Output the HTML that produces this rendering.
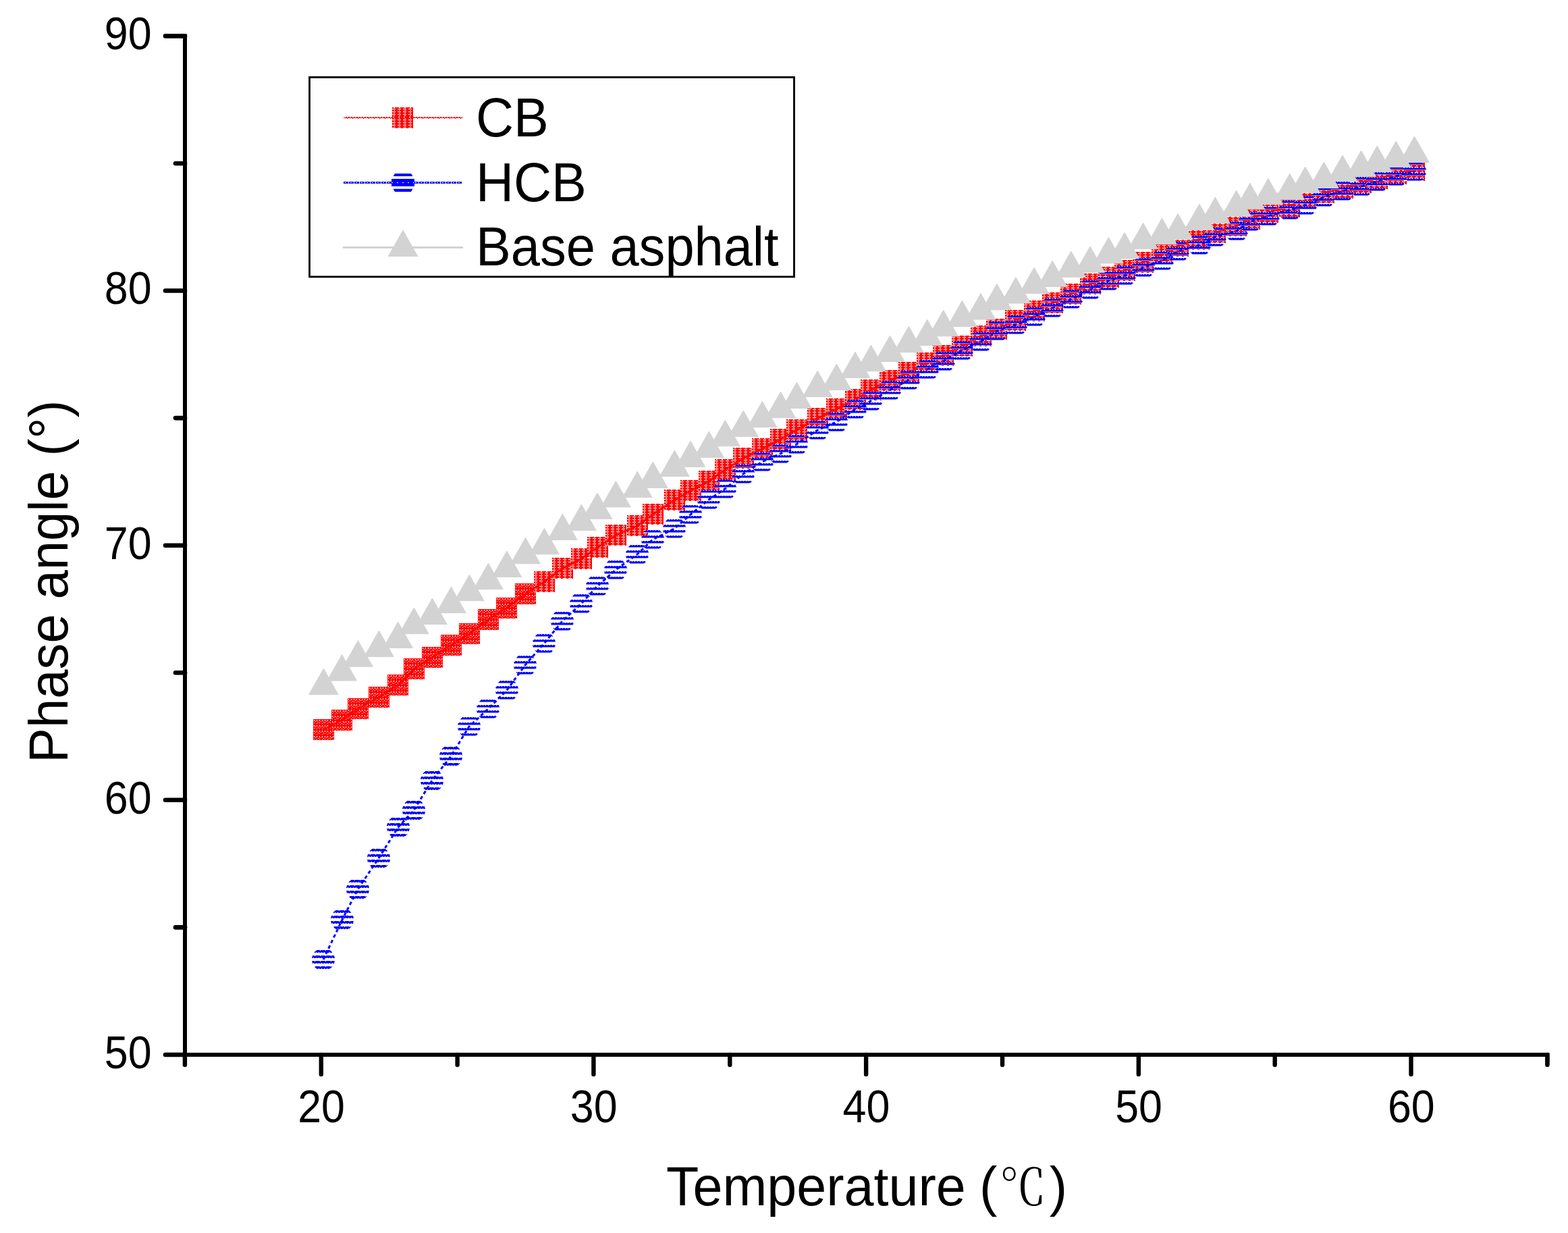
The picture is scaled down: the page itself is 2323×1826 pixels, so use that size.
<!DOCTYPE html>
<html><head><meta charset="utf-8"><title>Phase angle vs Temperature</title>
<style>
html,body{margin:0;padding:0;background:#fff;}
svg{display:block;}
text{font-family:"Liberation Sans",Arial,sans-serif;fill:#000;}
</style></head><body>
<svg width="2323" height="1826" viewBox="0 0 2323 1826">
<defs>
<pattern id="rp" width="8" height="8" patternUnits="userSpaceOnUse" x="0.5" y="0.5">
<rect width="8" height="8" fill="#ff0000"/>
<rect x="1" y="1" width="1" height="2" fill="#fff"/><rect x="5" y="1" width="1" height="2" fill="#fff"/>
<rect x="3" y="3" width="1" height="1" fill="#fff"/><rect x="7" y="4" width="1" height="1" fill="#fff"/>
<rect x="1" y="5" width="1" height="1" fill="#fff"/><rect x="5" y="6" width="1" height="1" fill="#fff"/>
</pattern>
<pattern id="rp2" width="8" height="4" patternUnits="userSpaceOnUse" x="0.5" y="0.5">
<rect width="8" height="4" fill="#ff0000"/>
<rect x="2" y="0" width="2" height="1" fill="#fff"/><rect x="0" y="2" width="5" height="1" fill="#fff"/>
</pattern>
<pattern id="bp2" width="8" height="4" patternUnits="userSpaceOnUse">
<rect width="8" height="4" fill="#0000ff"/>
<rect x="1" y="1" width="1" height="1" fill="#fff"/><rect x="3" y="1" width="1" height="1" fill="#fff"/><rect x="5" y="1" width="1" height="1" fill="#fff"/><rect x="7" y="1" width="1" height="1" fill="#fff"/>
<rect x="0" y="2" width="1" height="1" fill="#fff"/><rect x="4" y="2" width="1" height="1" fill="#fff"/>
</pattern>
<clipPath id="stripes"><rect x="-20" y="-14" width="40" height="4"/><rect x="-20" y="-6" width="40" height="4"/><rect x="-20" y="2" width="40" height="4"/><rect x="-20" y="10" width="40" height="4"/></clipPath>
<pattern id="bp" width="8" height="8" patternUnits="userSpaceOnUse">
<rect width="8" height="8" fill="#0000ff"/>
<rect x="1" y="1" width="1" height="1" fill="#fff"/><rect x="5" y="1" width="1" height="1" fill="#fff"/><rect x="3" y="2" width="1" height="1" fill="#fff"/>
<rect x="1" y="5" width="1" height="1" fill="#fff"/><rect x="5" y="5" width="1" height="1" fill="#fff"/><rect x="7" y="6" width="1" height="1" fill="#fff"/>
</pattern>
<g id="bc"><circle r="17" fill="url(#bp)" clip-path="url(#stripes)"/></g>
<g id="bc2"><circle r="17" fill="url(#bp2)" clip-path="url(#stripes)"/></g>
<g id="rs"><rect x="-15.5" y="-15.5" width="31" height="31" fill="url(#rp)"/></g>
<g id="rs2"><rect x="-15.5" y="-15.5" width="31" height="31" fill="url(#rp2)"/></g>
<g id="gt"><path d="M0 -25.6 L21.8 12.9 L-21.8 12.9 Z" fill="#d3d3d3" stroke="#d3d3d3" stroke-width="1" stroke-linejoin="round"/></g>
</defs>
<rect width="2323" height="1826" fill="#fff"/>
<use href="#rs" x="479.5" y="1080.5"/><use href="#rs" x="506.5" y="1066.5"/><use href="#rs" x="530.5" y="1049.5"/><use href="#rs" x="561.5" y="1032.5"/><use href="#rs" x="589.5" y="1014.5"/><use href="#rs" x="613.5" y="990.5"/><use href="#rs" x="640.5" y="973.5"/><use href="#rs" x="668.5" y="955.5"/><use href="#rs" x="695.5" y="938.5"/><use href="#rs" x="723.5" y="917.5"/><use href="#rs" x="750.5" y="900.5"/><use href="#rs" x="778.5" y="879.5"/><use href="#rs2" x="806.5" y="861.5"/><use href="#rs2" x="833.5" y="841.5"/><use href="#rs2" x="861.5" y="827.5"/><use href="#rs2" x="885.5" y="810.5"/><use href="#rs2" x="912.5" y="792.5"/><use href="#rs2" x="944.5" y="778.5"/><use href="#rs2" x="967.5" y="761.5"/><use href="#rs2" x="999.5" y="740.5"/><use href="#rs2" x="1023.5" y="726.5"/><use href="#rs2" x="1050.5" y="712.5"/><use href="#rs2" x="1074.5" y="695.5"/><use href="#rs2" x="1101.5" y="678.5"/><use href="#rs2" x="1129.5" y="664.5"/><use href="#rs2" x="1156.5" y="650.5"/><use href="#rs2" x="1180.5" y="636.5"/><use href="#rs2" x="1211.5" y="619.5"/><use href="#rs2" x="1239.5" y="605.5"/><use href="#rs2" x="1267.5" y="591.5"/><use href="#rs2" x="1290.5" y="577.5"/><use href="#rs2" x="1318.5" y="563.5"/><use href="#rs2" x="1346.5" y="551.5"/><use href="#rs2" x="1373.5" y="537.5"/><use href="#rs2" x="1397.5" y="526.5"/><use href="#rs2" x="1425.5" y="512.5"/><use href="#rs2" x="1453.5" y="497.5"/><use href="#rs2" x="1476.5" y="487.5"/><use href="#rs2" x="1504.5" y="474.5"/><use href="#rs2" x="1532.5" y="460.5"/><use href="#rs2" x="1559.5" y="448.5"/><use href="#rs2" x="1586.5" y="435.5"/><use href="#rs2" x="1615.5" y="420.5"/><use href="#rs2" x="1642.5" y="410.5"/><use href="#rs2" x="1666.5" y="400.5"/><use href="#rs2" x="1693.5" y="388.5"/><use href="#rs2" x="1721.5" y="376.5"/><use href="#rs2" x="1745.5" y="364.5"/><use href="#rs2" x="1776.5" y="354.5"/><use href="#rs2" x="1800.5" y="344.5"/><use href="#rs2" x="1831.5" y="334.5"/><use href="#rs2" x="1851.5" y="324.5"/><use href="#rs2" x="1878.5" y="314.5"/><use href="#rs2" x="1910.5" y="306.5"/><use href="#rs2" x="1933.5" y="291.5"/><use href="#rs2" x="1961.5" y="285.5"/><use href="#rs2" x="1989.5" y="278.5"/><use href="#rs2" x="2016.5" y="270.5"/><use href="#rs2" x="2040.5" y="264.5"/><use href="#rs2" x="2068.5" y="257.5"/><use href="#rs2" x="2095.5" y="252.5"/>
<polyline points="479.5,1080.5 506.5,1066.5 530.5,1049.5 561.5,1032.5 589.5,1014.5 613.5,990.5 640.5,973.5 668.5,955.5 695.5,938.5 723.5,917.5 750.5,900.5 778.5,879.5 806.5,861.5 833.5,841.5 861.5,827.5 885.5,810.5 912.5,792.5 944.5,778.5 967.5,761.5 999.5,740.5 1023.5,726.5 1050.5,712.5 1074.5,695.5 1101.5,678.5 1129.5,664.5 1156.5,650.5 1180.5,636.5 1211.5,619.5 1239.5,605.5 1267.5,591.5 1290.5,577.5 1318.5,563.5 1346.5,551.5 1373.5,537.5 1397.5,526.5 1425.5,512.5 1453.5,497.5 1476.5,487.5 1504.5,474.5 1532.5,460.5 1559.5,448.5 1586.5,435.5 1615.5,420.5 1642.5,410.5 1666.5,400.5 1693.5,388.5 1721.5,376.5 1745.5,364.5 1776.5,354.5 1800.5,344.5 1831.5,334.5 1851.5,324.5 1878.5,314.5 1910.5,306.5 1933.5,291.5 1961.5,285.5 1989.5,278.5 2016.5,270.5 2040.5,264.5 2068.5,257.5 2095.5,252.5" fill="none" stroke="#ff0000" stroke-width="3" stroke-linejoin="round"/>
<use href="#bc" x="479" y="1421"/><use href="#bc" x="507" y="1362"/><use href="#bc" x="530" y="1317"/><use href="#bc" x="561" y="1271"/><use href="#bc" x="590" y="1225"/><use href="#bc" x="613" y="1200"/><use href="#bc" x="640" y="1156"/><use href="#bc" x="668" y="1120"/><use href="#bc2" x="695" y="1076"/><use href="#bc2" x="723" y="1050"/><use href="#bc2" x="751" y="1022"/><use href="#bc2" x="778" y="985"/><use href="#bc2" x="806" y="953"/><use href="#bc2" x="833" y="920"/><use href="#bc2" x="861" y="894"/><use href="#bc2" x="885" y="868"/><use href="#bc2" x="912" y="844"/><use href="#bc2" x="944" y="821"/><use href="#bc2" x="967" y="799"/><use href="#bc2" x="999" y="783"/><use href="#bc2" x="1023" y="762"/><use href="#bc2" x="1050" y="740"/><use href="#bc2" x="1074" y="724"/><use href="#bc2" x="1101" y="702"/><use href="#bc2" x="1129" y="684"/><use href="#bc2" x="1156" y="672"/><use href="#bc2" x="1180" y="658"/><use href="#bc2" x="1211" y="637"/><use href="#bc2" x="1239" y="625"/><use href="#bc2" x="1267" y="606"/><use href="#bc2" x="1290" y="594"/><use href="#bc2" x="1318" y="578"/><use href="#bc2" x="1346" y="563"/><use href="#bc2" x="1374" y="547"/><use href="#bc2" x="1398" y="535"/><use href="#bc2" x="1425" y="519"/><use href="#bc2" x="1453" y="506"/><use href="#bc2" x="1477" y="490"/><use href="#bc2" x="1505" y="481"/><use href="#bc2" x="1532" y="469"/><use href="#bc2" x="1559" y="456"/><use href="#bc2" x="1587" y="443"/><use href="#bc2" x="1615" y="429"/><use href="#bc2" x="1642" y="416"/><use href="#bc2" x="1666" y="408"/><use href="#bc2" x="1694" y="396"/><use href="#bc2" x="1722" y="386"/><use href="#bc2" x="1745" y="372"/><use href="#bc2" x="1777" y="363"/><use href="#bc2" x="1800" y="351"/><use href="#bc2" x="1832" y="342"/><use href="#bc2" x="1852" y="328"/><use href="#bc2" x="1879" y="320"/><use href="#bc2" x="1911" y="311"/><use href="#bc2" x="1934" y="304"/><use href="#bc2" x="1961" y="292"/><use href="#bc2" x="1989" y="283"/><use href="#bc2" x="2017" y="276"/><use href="#bc2" x="2040" y="269"/><use href="#bc2" x="2068" y="261"/><use href="#bc2" x="2096" y="254"/>
<polyline points="479,1421 507,1362 530,1317 561,1271 590,1225 613,1200 640,1156 668,1120 695,1076 723,1050 751,1022 778,985 806,953 833,920 861,894 885,868 912,844 944,821 967,799 999,783 1023,762 1050,740 1074,724 1101,702 1129,684 1156,672 1180,658 1211,637 1239,625 1267,606 1290,594 1318,578 1346,563 1374,547 1398,535 1425,519 1453,506 1477,490 1505,481 1532,469 1559,456 1587,443 1615,429 1642,416 1666,408 1694,396 1722,386 1745,372 1777,363 1800,351 1832,342 1852,328 1879,320 1911,311 1934,304 1961,292 1989,283 2017,276 2040,269 2068,261 2096,254" fill="none" stroke="#0000ff" stroke-width="3" stroke-dasharray="5 4"/>
<use href="#gt" x="479.4" y="1015.8"/><use href="#gt" x="506.6" y="995.1"/><use href="#gt" x="530.4" y="974.3"/><use href="#gt" x="561.4" y="959.7"/><use href="#gt" x="589.6" y="946.7"/><use href="#gt" x="613.3" y="925.7"/><use href="#gt" x="640.4" y="911.7"/><use href="#gt" x="668.4" y="894.8"/><use href="#gt" x="695.4" y="876.8"/><use href="#gt" x="723.4" y="859.8"/><use href="#gt" x="750.9" y="841.6"/><use href="#gt" x="778.5" y="821.9"/><use href="#gt" x="806.5" y="807.9"/><use href="#gt" x="833.4" y="786.7"/><use href="#gt" x="861.4" y="772.6"/><use href="#gt" x="885" y="755.6"/><use href="#gt" x="912.4" y="738"/><use href="#gt" x="944.3" y="723.8"/><use href="#gt" x="967.3" y="709.6"/><use href="#gt" x="999.4" y="692.5"/><use href="#gt" x="1023" y="678.7"/><use href="#gt" x="1050.4" y="664.5"/><use href="#gt" x="1074.4" y="647.9"/><use href="#gt" x="1101.3" y="633.7"/><use href="#gt" x="1129.3" y="619.9"/><use href="#gt" x="1156.5" y="605.8"/><use href="#gt" x="1180.4" y="591.8"/><use href="#gt" x="1211.2" y="574.8"/><use href="#gt" x="1239.4" y="564.7"/><use href="#gt" x="1267" y="546.7"/><use href="#gt" x="1290.4" y="536.7"/><use href="#gt" x="1318.5" y="522.7"/><use href="#gt" x="1346.3" y="508.9"/><use href="#gt" x="1373.7" y="498.8"/><use href="#gt" x="1397.6" y="485"/><use href="#gt" x="1425.4" y="470.8"/><use href="#gt" x="1453" y="460.2"/><use href="#gt" x="1476.9" y="446"/><use href="#gt" x="1504.9" y="436.2"/><use href="#gt" x="1532.1" y="421.9"/><use href="#gt" x="1559.2" y="411.8"/><use href="#gt" x="1586.8" y="397.6"/><use href="#gt" x="1615" y="390.6"/><use href="#gt" x="1642.4" y="377"/><use href="#gt" x="1666" y="370"/><use href="#gt" x="1693.6" y="355.8"/><use href="#gt" x="1721.5" y="348.8"/><use href="#gt" x="1745.1" y="342"/><use href="#gt" x="1776.9" y="327.7"/><use href="#gt" x="1800.3" y="317.7"/><use href="#gt" x="1831.6" y="307.6"/><use href="#gt" x="1851.9" y="296.9"/><use href="#gt" x="1878.9" y="289.9"/><use href="#gt" x="1910.8" y="282.7"/><use href="#gt" x="1933.8" y="272.6"/><use href="#gt" x="1961.4" y="265.6"/><use href="#gt" x="1989" y="255.5"/><use href="#gt" x="2016.6" y="248.7"/><use href="#gt" x="2040.2" y="241.7"/><use href="#gt" x="2068.2" y="234.7"/><use href="#gt" x="2095.5" y="227.6"/>
<polyline points="479.4,1015.8 506.6,995.1 530.4,974.3 561.4,959.7 589.6,946.7 613.3,925.7 640.4,911.7 668.4,894.8 695.4,876.8 723.4,859.8 750.9,841.6 778.5,821.9 806.5,807.9 833.4,786.7 861.4,772.6 885,755.6 912.4,738 944.3,723.8 967.3,709.6 999.4,692.5 1023,678.7 1050.4,664.5 1074.4,647.9 1101.3,633.7 1129.3,619.9 1156.5,605.8 1180.4,591.8 1211.2,574.8 1239.4,564.7 1267,546.7 1290.4,536.7 1318.5,522.7 1346.3,508.9 1373.7,498.8 1397.6,485 1425.4,470.8 1453,460.2 1476.9,446 1504.9,436.2 1532.1,421.9 1559.2,411.8 1586.8,397.6 1615,390.6 1642.4,377 1666,370 1693.6,355.8 1721.5,348.8 1745.1,342 1776.9,327.7 1800.3,317.7 1831.6,307.6 1851.9,296.9 1878.9,289.9 1910.8,282.7 1933.8,272.6 1961.4,265.6 1989,255.5 2016.6,248.7 2040.2,241.7 2068.2,234.7 2095.5,227.6" fill="none" stroke="#d3d3d3" stroke-width="3"/>
<g stroke="#000" stroke-width="6" fill="none">
<path d="M274 50.4 V1562 H2292.5 V1577" stroke-linejoin="miter"/>
<line x1="274" y1="1562" x2="245" y2="1562" stroke-linecap="round" stroke-width="6.6"/><line x1="274" y1="1373.4" x2="260" y2="1373.4" stroke-linecap="round" stroke-width="6.6"/><line x1="274" y1="1184.8" x2="245" y2="1184.8" stroke-linecap="round" stroke-width="6.6"/><line x1="274" y1="996.3" x2="260" y2="996.3" stroke-linecap="round" stroke-width="6.6"/><line x1="274" y1="807.7" x2="245" y2="807.7" stroke-linecap="round" stroke-width="6.6"/><line x1="274" y1="619.1" x2="260" y2="619.1" stroke-linecap="round" stroke-width="6.6"/><line x1="274" y1="430.5" x2="245" y2="430.5" stroke-linecap="round" stroke-width="6.6"/><line x1="274" y1="242" x2="260" y2="242" stroke-linecap="round" stroke-width="6.6"/><line x1="274" y1="53.4" x2="245" y2="53.4" stroke-linecap="round" stroke-width="6.6"/>
<line x1="273.9" y1="1562" x2="273.9" y2="1577" stroke-linecap="round" stroke-width="6.4"/><line x1="475.8" y1="1562" x2="475.8" y2="1591" stroke-linecap="round" stroke-width="6.4"/><line x1="677.6" y1="1562" x2="677.6" y2="1577" stroke-linecap="round" stroke-width="6.4"/><line x1="879.4" y1="1562" x2="879.4" y2="1591" stroke-linecap="round" stroke-width="6.4"/><line x1="1081.3" y1="1562" x2="1081.3" y2="1577" stroke-linecap="round" stroke-width="6.4"/><line x1="1283.1" y1="1562" x2="1283.1" y2="1591" stroke-linecap="round" stroke-width="6.4"/><line x1="1485" y1="1562" x2="1485" y2="1577" stroke-linecap="round" stroke-width="6.4"/><line x1="1686.8" y1="1562" x2="1686.8" y2="1591" stroke-linecap="round" stroke-width="6.4"/><line x1="1888.7" y1="1562" x2="1888.7" y2="1577" stroke-linecap="round" stroke-width="6.4"/><line x1="2090.5" y1="1562" x2="2090.5" y2="1591" stroke-linecap="round" stroke-width="6.4"/><line x1="2292.4" y1="1562" x2="2292.4" y2="1577" stroke-linecap="round" stroke-width="6.4"/>
</g>
<text font-size="64" text-anchor="end" transform="translate(224.6,1581.7) scale(0.98,1.07)">50</text><text font-size="64" text-anchor="end" transform="translate(224.6,1204.9) scale(0.98,1.07)">60</text><text font-size="64" text-anchor="end" transform="translate(224.6,827.5) scale(0.98,1.07)">70</text><text font-size="64" text-anchor="end" transform="translate(224.6,450.1) scale(0.98,1.07)">80</text><text font-size="64" text-anchor="end" transform="translate(224.6,72.7) scale(0.98,1.07)">90</text>
<text font-size="64" text-anchor="middle" transform="translate(476.1,1661.5) scale(0.98,1.07)">20</text><text font-size="64" text-anchor="middle" transform="translate(879.7,1661.5) scale(0.98,1.07)">30</text><text font-size="64" text-anchor="middle" transform="translate(1283.4,1661.5) scale(0.98,1.07)">40</text><text font-size="64" text-anchor="middle" transform="translate(1687.1,1661.5) scale(0.98,1.07)">50</text><text font-size="64" text-anchor="middle" transform="translate(2090.8,1661.5) scale(0.98,1.07)">60</text>
<text font-size="78" transform="translate(986.9,1784.8) scale(1.014,1.035)">Temperature <tspan x="457.8">(</tspan><tspan x="487.1" dy="-1.1" font-family="Liberation Sans, Noto Serif CJK SC, serif" font-size="70.1" textLength="68.1" lengthAdjust="spacingAndGlyphs">℃</tspan><tspan x="560.1" dy="1.1">)</tspan></text>
<text font-size="78" transform="translate(100.1,1129.9) rotate(-90) scale(0.998,1.037)">Phase angle (°)</text>
<rect x="458.5" y="114.4" width="718" height="295.5" fill="none" stroke="#000" stroke-width="2.8"/>
<use href="#rs2" x="596.5" y="174.5"/><g stroke="#ff0000" stroke-width="1"><line x1="509" y1="174.5" x2="685" y2="174.5"/><line x1="512" y1="173.5" x2="685" y2="173.5" stroke-dasharray="2 2"/><line x1="514" y1="175.5" x2="685" y2="175.5" stroke-dasharray="1 7"/></g>
<line x1="509" y1="270.5" x2="685" y2="270.5" stroke="#0000ff" stroke-width="3" stroke-dasharray="7 1"/><line x1="511" y1="270.5" x2="685" y2="270.5" stroke="#fff" stroke-width="1" stroke-dasharray="2 6"/><g fill="#0000ff"><path d="M585 256.9 H609 L611.5 261 H582.5 Z"/><rect x="580" y="264.9" width="34" height="11"/><path d="M582.5 279.8 H611.5 L609 283.9 H585 Z"/></g><line x1="580" y1="270.4" x2="614" y2="270.4" stroke="#fff" stroke-width="1" stroke-dasharray="2 6"/>
<line x1="509" y1="366.5" x2="685" y2="366.5" stroke="#d3d3d3" stroke-width="2.8" stroke-linecap="round"/><use href="#gt" x="597" y="366.7"/>
<text font-size="78" transform="translate(705,201.9) scale(0.995,1.035)">CB</text><text font-size="78" transform="translate(705,297.9) scale(0.995,1.035)">HCB</text><text font-size="78" transform="translate(705,392.7) scale(0.995,1.035)">Base asphalt</text>
</svg>
</body></html>
